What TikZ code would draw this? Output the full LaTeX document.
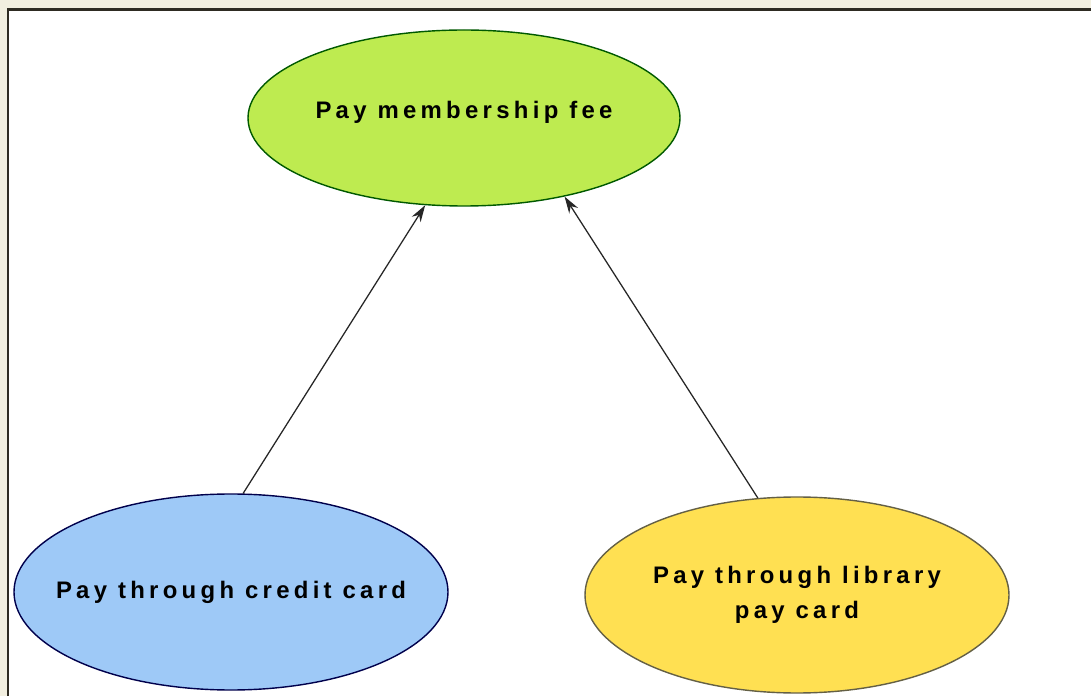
\documentclass[tikz,border=0pt]{standalone}
\usepackage{fontspec}
\usepackage{xcolor}
\usepackage{tikz}
\usetikzlibrary{shapes.geometric, arrows, arrows.meta, positioning}
\newfontfamily\casefont[LetterSpace=18]{Liberation Sans Bold}
\definecolor{paper}{HTML}{F2EFE0}
\definecolor{frameline}{HTML}{2E2B22}
\definecolor{feegreen}{HTML}{BEEB50}
\definecolor{cardblue}{HTML}{9EC9F7}
\definecolor{cardyellow}{HTML}{FFE052}
\tikzstyle{arrow}     = [line width=0.9pt,draw=black!85,-{Stealth[length=4.2mm,width=2.6mm]}]
\tikzset{every node/.style={align=center}}

\begin{document}
\begin{tikzpicture}[
    usecase/.style={ellipse,draw,line width=1pt,inner sep=0pt},
    casetext/.style={font=\casefont\fontsize{17}{24.5}\selectfont}
]
  % Page and frame
  \useasboundingbox (0,0) rectangle (27.275,17.4);
  \fill[paper] (0,0) rectangle (27.275,17.4);
  \fill[white] (0.195,0) rectangle (27.275,17.16);
  \draw[frameline,line width=1.8pt] (0.195,0) -- (0.195,17.16) -- (27.275,17.16);
  % Use cases
  \node (FEE)    at (11.6, 14.45) [usecase, draw=green!35!black, fill=feegreen,
        minimum width=10.8cm, minimum height=4.4cm,
        label={[casetext,yshift=1.5mm]center:Pay membership fee}] {};
  \node (CREDIT) at (5.775, 2.6)  [usecase, draw=blue!30!black, fill=cardblue,
        minimum width=10.85cm, minimum height=4.9cm,
        label={[casetext]center:Pay through credit card}] {};
  \node (LIB)    at (19.925,2.525)[usecase, draw=yellow!30!black, fill=cardyellow,
        minimum width=10.6cm, minimum height=4.9cm,
        label={[casetext]center:Pay through library\\pay card}] {};
  % Alternatives
  \draw[arrow] (CREDIT.83) -- (FEE.246);
  \draw[arrow] (LIB.112)   -- (FEE.322);
\end{tikzpicture}
\end{document}
